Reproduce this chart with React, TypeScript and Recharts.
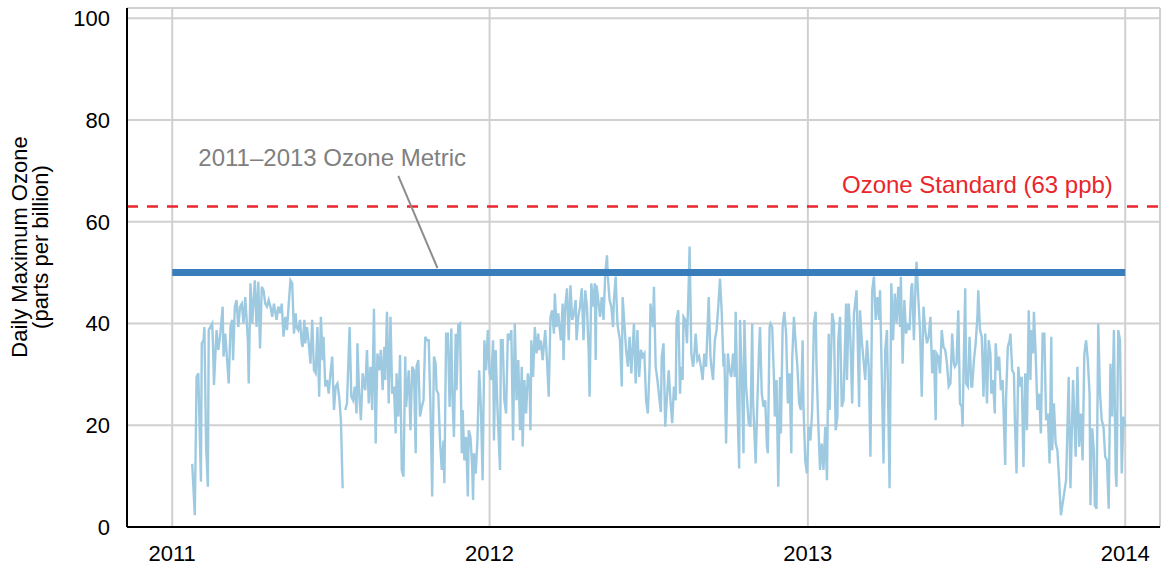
import React from 'react';
import {
    LineChart,
    Line,
    XAxis,
    YAxis,
    CartesianGrid,
    ReferenceLine,
    ReferenceDot,
    Label,
} from 'recharts';

// daily max ozone, [days since 2011-01-01, ppb]
const ozone2011: [number, number | null][] = [
    [23, 12.4], [26, 2.3], [28, 29.5], [30, 30.2], [33, 8.9], [34, 36.1], [36, 36.7], [37, 39.3], [39, 15.8], [41, 7.9],
    [42, 38.7], [46, 40], [47, 35.4], [48, 27.9], [51, 38.7], [53, 34.8], [55, 37.4], [58, 43.3], [59, 33.5], [61, 38],
    [65, 28.2], [67, 39.3], [69, 40.7], [70, 32.8], [72, 43.3], [74, 44.6], [76, 39.3], [78, 43.3], [80, 43.9], [82, 40],
    [84, 45.2], [87, 36.7], [88, 28.2], [90, 47.9], [92, 40], [95, 48.5], [97, 39.3], [99, 48.2], [101, 35.1], [103, 47.2],
    [105, 46.5], [107, 43.9], [109, 43.3], [111, 44.6], [113, 43.3], [115, 41.3], [117, 43.9], [120, 40.7], [122, 43.3], [124, 42],
    [126, 43.9], [128, 37.4], [130, 41.3], [132, 38.7], [134, 43.9], [136, 48.5], [138, 47.9], [140, 38], [142, 42], [143, 39.3],
    [145, 38.7], [147, 40.7], [149, 36.1], [150, 35.4], [152, 40.7], [153, 36.1], [155, 39.3], [157, 36.1], [159, 32.1], [161, 40.7],
    [163, 30.8], [165, 30.2], [167, 39.3], [169, 25.6], [171, 41.3], [173, 32.8], [174, 37.4], [176, 27.6], [178, 28.9], [180, 26.2],
    [182, 30.2], [184, 33.5], [186, 23], [188, 27.6], [190, 28.2], [192, 25.6], [194, 21], [196, 7.6], [197, null], [199, 23],
    [201, 24.3], [204, 39.3], [206, 25.6], [208, 24.9], [210, 27.6], [212, 22.3], [213, 36.1], [215, 26.2], [217, 21], [219, 30.2],
    [221, 27.6], [222, 26.9], [224, 34.8], [226, 24.3], [228, 31.5], [230, 23], [232, 42.9], [234, 16.4], [236, 34.1], [238, 30.8],
    [240, 34.8], [242, 26.9], [244, 35.4], [245, 28.9], [247, 42.3], [249, 24.3], [251, 41.3], [253, 26.2], [255, 27.6], [257, 18.4],
    [258, 30.2], [260, 21.7], [262, 33.8], [264, 11.2], [266, 9.9], [268, 33.5], [269, 23.6], [272, 30.8], [274, 19], [276, 31.5],
    [278, 30.8], [280, 14.5], [281, 31.5], [283, 32.8], [285, 21.7], [287, 23.6], [289, 24.9], [291, 37.4], [293, 36.7], [295, 36.7],
    [297, 23.6], [299, 6], [301, 33.5], [303, 32.1], [304, 26.9], [306, 26.2], [308, 17], [310, 11.2], [312, 17], [313, 8.6],
    [315, 38], [317, 38], [319, 23.6], [321, 39], [322, 26.9], [324, 17.7], [326, 38], [327, 26.9], [329, 39.7], [331, 40],
    [333, 14.5], [334, 23], [336, 13.1], [338, 17.7], [340, 6], [341, 19], [343, 17.7], [345, 11.8], [346, 5.3], [347, 14.5],
    [349, 10.5], [351, 17], [353, 30.8], [355, 23.6], [357, 9.2], [359, 36.7], [361, 30.8], [363, 38.7],
];

const ozone2012: [number, number | null][] = [
    [365, 30.2], [367, 28.9], [369, 36.7], [370, 17], [372, 34.8], [374, 23.6], [377, 11.2], [378, 36.7], [380, 36.7], [382, 24.9],
    [384, 22.3], [386, 38], [388, 36.7], [390, 38.7], [392, 17], [394, 40], [396, 24.9], [398, 32.8], [400, 19], [402, 31.5],
    [403, 15.8], [405, 28.9], [407, 22.3], [409, 30.2], [411, 28.2], [412, 19], [413, 36.7], [415, 29.5], [417, 39.3], [419, 34.1],
    [421, 38], [422, 34.8], [424, 36.7], [426, 32.8], [429, 38.7], [431, 32.8], [433, 25.6], [435, 41.3], [437, 42.6], [439, 38],
    [440, 45.9], [442, 39.3], [444, 42], [445, 40], [447, 36.7], [449, 43.9], [450, 32.8], [452, 43.3], [454, 46.9], [456, 36.7],
    [458, 47.5], [460, 40.7], [462, 42], [464, 44.6], [465, 36.7], [467, 41.3], [469, 43.3], [471, 46.9], [473, 36.7], [475, 46.5],
    [477, 43.3], [479, 34.1], [480, 25.6], [482, 47.9], [484, 43.3], [486, 47.9], [487, 32.8], [488, 47.5], [490, 44.6], [492, 41.3],
    [494, 45.2], [496, 40.7], [498, 49.8], [500, 53.4], [501, 49.2], [503, 44.6], [505, 43.3], [507, 39.3], [508, 44.6], [510, 49.2],
    [512, 40], [513, 38.7], [515, 36.7], [517, 27.6], [518, 45.2], [520, 40], [522, 34.8], [524, 31.5], [526, 37.4], [528, 30.2],
    [530, 36.7], [531, 40], [533, 28.2], [535, 38.7], [537, 29.5], [539, 34.8], [541, 33.5], [543, 34.1], [545, 24.9], [547, 22.3],
    [549, 31.5], [550, 43.9], [553, 39.3], [554, 47.2], [556, 31.5], [558, 28.9], [560, 25.6], [562, 22.6], [563, 33.5], [565, 36.1],
    [567, 19.7], [569, 25.6], [571, 30.8], [573, 24.9], [575, 20.4], [577, 27.6], [579, 24.9], [580, 40.7], [582, 42.6], [584, 26.2],
    [585, 31.5], [587, 28.9], [588, 41.3], [590, 40.7], [592, 36.1], [594, 47.9], [595, 55.1], [597, 34.1], [599, 31.5], [600, 32.8],
    [602, 38], [604, 32.8], [606, 33.5], [608, 31.5], [610, 28.9], [612, 34.1], [614, 31.5], [617, 45.2], [619, 33.5], [620, 31.5],
    [622, 28.9], [624, 36.7], [626, 38.7], [628, 43.3], [630, 48.8], [632, 42], [634, 31.5], [635, 34.1], [637, 16.4], [639, 34.1],
    [641, 30.8], [643, 29.5], [645, 34.1], [647, 29.5], [648, 42.3], [650, 24.3], [652, 11.5], [653, 40.7], [655, 30.2], [657, 14.5],
    [658, 40.7], [660, 27.6], [663, 20.4], [665, 19.7], [667, 40], [668, 24.9], [671, 12.5], [673, 24.9], [675, 35.4], [676, 39.3],
    [678, 26.2], [680, 23.6], [682, 24.9], [684, 15.8], [685, 14.5], [687, 39.3], [688, 40], [690, 39.3], [692, 29.5], [693, 21.7],
    [695, 28.9], [697, 7.9], [699, 29.5], [700, 18.4], [702, 39.3], [704, 42.3], [706, 38], [708, 24.3], [710, 30.2], [712, 14.5],
    [713, 32.8], [715, 41.3], [717, 36.1], [719, 31.5], [721, 24.3], [723, 23], [725, 36.7], [726, 23.6], [728, 13.1], [730, 10.5],
];

const ozone2013: [number, number | null][] = [
    [732, 19.7], [734, 17], [736, 23], [738, 40], [740, 42.3], [741, 31.5], [743, 20.4], [745, 11.2], [747, 16.4], [749, 11.2],
    [751, 19.7], [753, 9.2], [755, 38], [756, 23], [759, 42], [761, 40], [763, 19], [765, 21.7], [766, 36.7], [768, 41.3],
    [770, 23.6], [772, 24.9], [775, 43.9], [776, 28.9], [778, 43.9], [780, 36.7], [782, 24.3], [784, 42], [785, 43.3], [787, 46.5],
    [788, 39.3], [790, 23.6], [791, 42.6], [793, 36.7], [795, 32.8], [797, 28.9], [799, 36.7], [801, 31.5], [803, 13.8], [805, 46.5],
    [807, 49.2], [809, 40.7], [811, 45.2], [813, 40.7], [814, 46.5], [816, 30.2], [818, 12.5], [820, 34.8], [822, 38.7], [825, 7.6],
    [827, 47.9], [829, 36.7], [831, 45.9], [833, 40], [835, 47.2], [837, 39.3], [838, 49.2], [840, 32.1], [842, 44.6], [844, 38],
    [846, 40], [848, 38.7], [850, 47.2], [851, 47.9], [853, 36.7], [855, 48.5], [856, 52.1], [858, 45.2], [860, 38.7], [862, 25.6],
    [864, 43.3], [866, 38.7], [868, 36.1], [870, 37.4], [872, 41.3], [874, 30.2], [876, 34.8], [878, 21], [879, 34.1], [881, 33.5],
    [883, 30.2], [885, 38.7], [887, 35.4], [889, 34.8], [891, 32.1], [893, 27.6], [895, 28.2], [897, 38], [899, 32.1], [900, 31.5],
    [902, 32.1], [904, 42.6], [906, 24.3], [908, 23.6], [909, 19.7], [910, 30.2], [912, 46.9], [913, 28.2], [915, 27.6], [917, 37.4],
    [919, 27.6], [920, 27.6], [922, 32.8], [924, 36.1], [926, 41.3], [927, 46.5], [929, 38.7], [931, 37.4], [933, 25.6], [935, 38],
    [937, 24.3], [939, 36.7], [941, 34.1], [942, 26.2], [944, 28.9], [946, 22.3], [947, 36.1], [949, 30.8], [951, 33.5], [953, 26.9],
    [955, 28.9], [957, 17.7], [958, 12.2], [959, 25.6], [961, 35.4], [963, 36.7], [964, 38], [966, 30.8], [968, 30.2], [969, 21.7],
    [971, 10.5], [973, 31.5], [975, 27.6], [977, 29.5], [979, 11.8], [981, 30.2], [983, 19], [985, 42.6], [987, 28.9], [988, 38.7],
    [990, 34.1], [991, 42.3], [993, 34.1], [995, 23], [997, 26.2], [999, 18.4], [1001, 38], [1003, 38], [1005, 21], [1007, 22.3],
    [1009, 12.5], [1011, 37.4], [1012, 15.1], [1014, 24.3], [1016, 16.4], [1018, 15.1], [1020, 9.2], [1022, 2.3], [1028, 9.2], [1031, 29.5],
    [1033, 7.6], [1036, 28.9], [1039, 13.8], [1041, 31.5], [1043, 15.8], [1045, 22.3], [1047, 13.1], [1049, 34.1], [1051, 36.7], [1053, 32.8],
    [1055, 26.2], [1056, 4.3], [1058, 19.4], [1060, 14.9], [1061, 4.3], [1063, 3.6], [1065, 40], [1067, 26.2], [1069, 21], [1071, 19.7],
    [1073, 13.8], [1075, 13.1], [1077, 3.6], [1079, 32.1], [1081, 21.7], [1083, 38.7], [1085, 10.5], [1086, 7.9], [1088, 38.7], [1090, 36.7],
    [1092, 10.5], [1094, 21.7], [1096, 19.7],
];

const yearTicks = [0, 365, 731, 1096];
const yearLabels = ['2011', '2012', '2013', '2014'];
const ozoneTicks = [0, 20, 40, 60, 80, 100];

const OZONE_STANDARD = 63;
const OZONE_METRIC = 50;
const METRIC_START = 0;
const METRIC_END = 1096;

const data = [...ozone2011, ...ozone2012, ...ozone2013].map(([day, v]) => ({ day, ozone: v }));

const FONT = '"Liberation Sans", Arial, sans-serif';

const YLabel = () => {
    const cx = 27;
    const cy = 247;
    return (
        <text
            x={cx}
            y={cy}
            transform={`rotate(-90, ${cx}, ${cy})`}
            textAnchor="middle"
            fontSize={22}
            fontFamily={FONT}
            fill="#000"
        >
            <tspan x={cx} dy={0}>Daily Maximum Ozone</tspan>
            <tspan x={cx} dy={21}>(parts per billion)</tspan>
        </text>
    );
};

const App: React.FC = () => {
    return (
        <div style={{ position: 'absolute', left: 0, top: 0, background: '#fff', fontFamily: FONT }}>
            <LineChart
                width={1162}
                height={566}
                data={data}
                margin={{ top: 8, right: 2, left: 0, bottom: 9 }}
            >
                <CartesianGrid stroke="#d0d0d0" strokeWidth={2} />
                <XAxis
                    dataKey="day"
                    type="number"
                    domain={[-52, 1136]}
                    ticks={yearTicks}
                    tickFormatter={(d: number) => yearLabels[yearTicks.indexOf(d)]}
                    tickLine={false}
                    tickSize={0}
                    tickMargin={18}
                    height={30}
                    axisLine={{ stroke: '#000', strokeWidth: 2 }}
                    tick={{ fill: '#000', fontSize: 22, fontFamily: FONT }}
                    interval={0}
                />
                <YAxis
                    type="number"
                    domain={[0, 102]}
                    ticks={ozoneTicks}
                    width={127}
                    tickLine={false}
                    tickSize={0}
                    tickMargin={17}
                    axisLine={{ stroke: '#000', strokeWidth: 2 }}
                    tick={{ fill: '#000', fontSize: 22, fontFamily: FONT }}
                    interval={0}
                >
                    <Label content={<YLabel />} />
                </YAxis>
                <ReferenceLine
                    y={OZONE_STANDARD}
                    stroke="#e8262b"
                    strokeWidth={2.5}
                    strokeDasharray="11 9"
                />
                <Line
                    type="linear"
                    dataKey="ozone"
                    stroke="#9ecae1"
                    strokeWidth={2.4}
                    dot={false}
                    activeDot={false}
                    isAnimationActive={false}
                />
                <ReferenceLine
                    segment={[{ x: METRIC_START, y: OZONE_METRIC }, { x: METRIC_END, y: OZONE_METRIC }]}
                    stroke="#3a7dbb"
                    strokeWidth={7}
                />
                <ReferenceLine
                    segment={[{ x: 260, y: 69 }, { x: 305, y: 50.9 }]}
                    stroke="#8c8c8c"
                    strokeWidth={2}
                />
                <ReferenceDot x={184} y={72.7} r={0} fill="none" stroke="none">
                    <Label value="2011–2013 Ozone Metric" position="center" fill="#808080" fontSize={24} fontFamily={FONT} />
                </ReferenceDot>
                <ReferenceDot x={926} y={67.4} r={0} fill="none" stroke="none">
                    <Label value="Ozone Standard (63 ppb)" position="center" fill="#e8262b" fontSize={24} fontFamily={FONT} />
                </ReferenceDot>
            </LineChart>
        </div>
    );
};

export default App;
